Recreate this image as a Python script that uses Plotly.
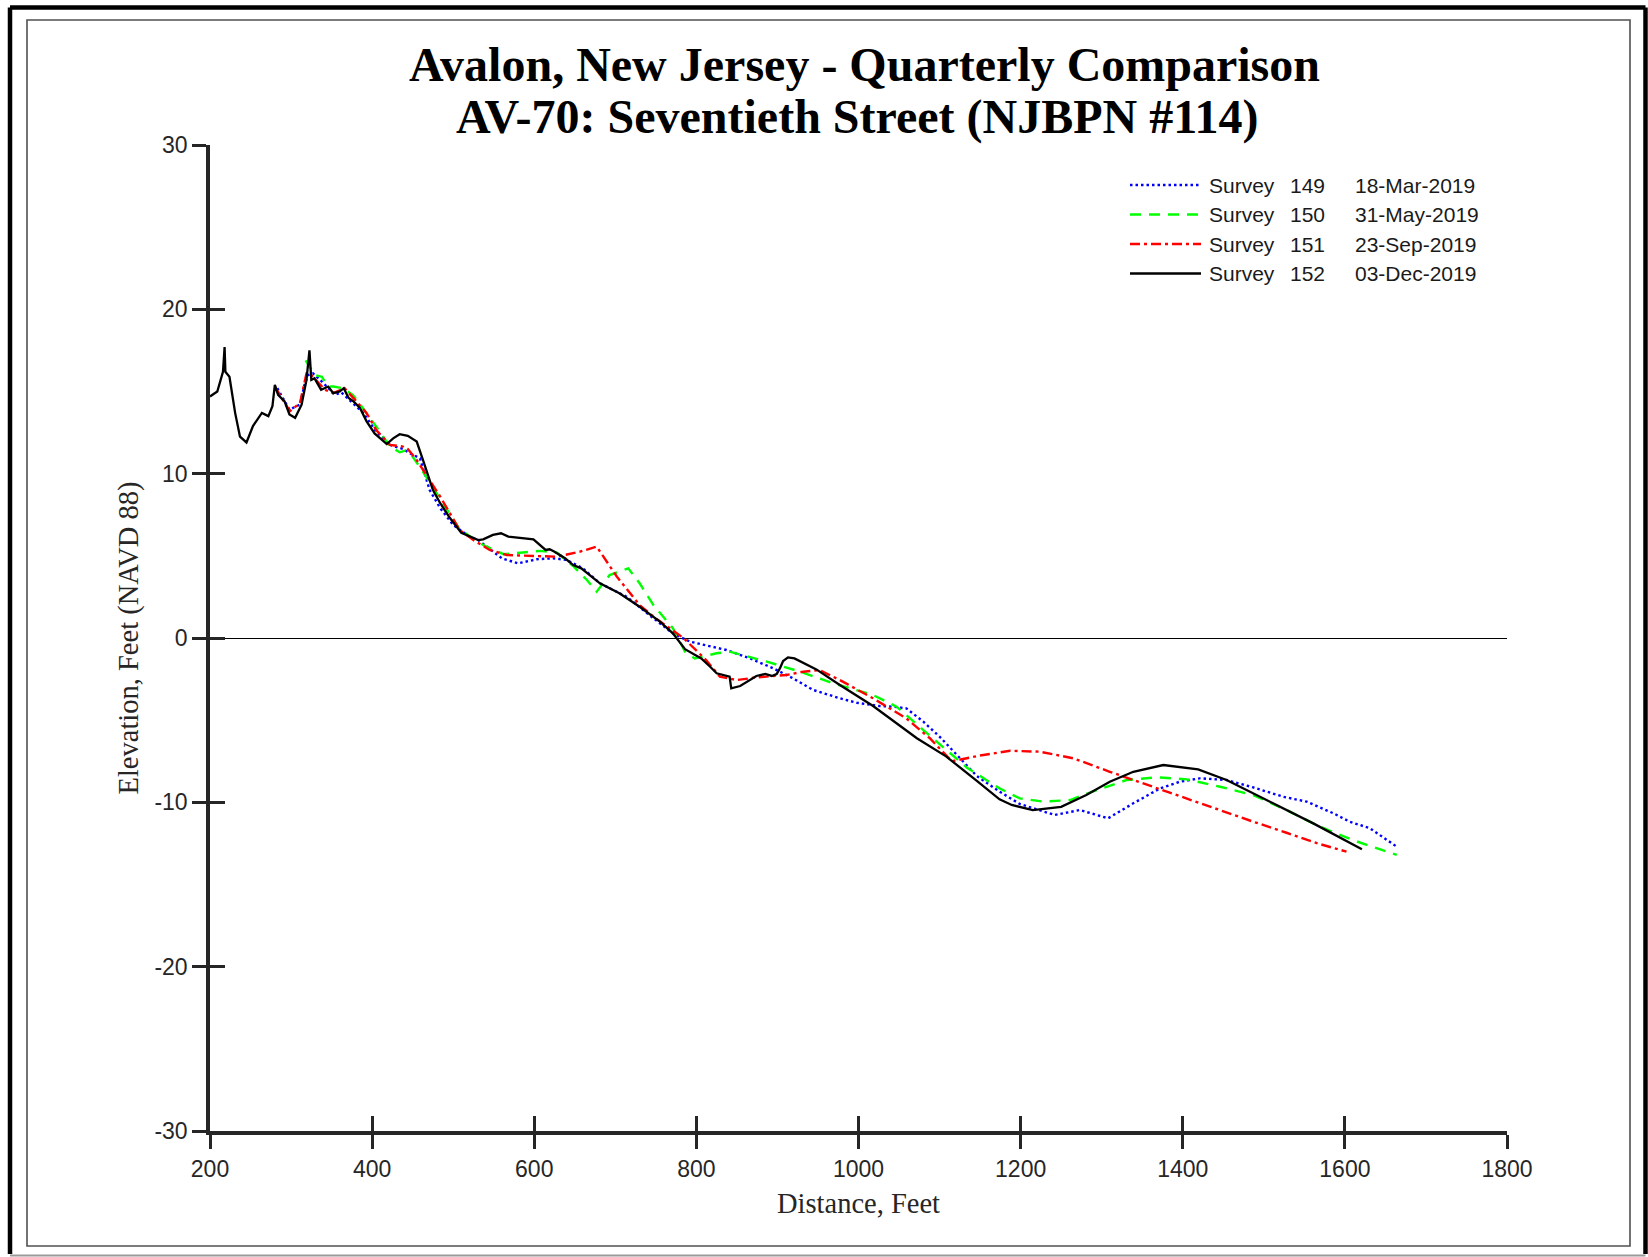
import plotly.graph_objects as go

# ---------------- data ----------------
dist_149 = [283, 290, 298, 311, 317, 321, 327, 338, 348, 354, 362, 372.5, 389, 405, 422, 438, 446.5, 459, 471,
            484, 500, 520, 531, 560, 580, 603, 623, 640, 660, 681, 714, 747, 771, 792, 812, 837, 866, 895, 919,
            944, 977, 998, 1026, 1043, 1059, 1080, 1100, 1146, 1174, 1199, 1220, 1242, 1273, 1308, 1339, 1372,
            1396, 1421, 1454, 1487, 1524, 1553, 1586, 1606, 1631, 1664]
elev_149 = [15.2, 14.6, 13.9, 14.2, 15.5, 16.0, 16.1, 15.6, 15.1, 14.8, 14.95, 14.45, 13.7, 12.56, 11.75, 11.5,
            11.24, 10.94, 9.0, 7.9, 6.88, 6.17, 5.96, 4.85, 4.54, 4.79, 4.85, 4.75, 4.24, 3.33, 2.51, 1.2, 0.28,
            -0.22, -0.43, -0.73, -1.24, -1.85, -2.45, -3.16, -3.67, -3.94, -4.14, -4.18, -4.28, -5.09, -6.0,
            -8.4, -9.35, -10.1, -10.43, -10.77, -10.47, -10.97, -10.06, -9.15, -8.75, -8.54, -8.64, -9.09,
            -9.66, -9.96, -10.67, -11.18, -11.58, -12.7]

dist_150 = [318, 329, 338, 344, 348, 352, 364, 376, 381, 399, 409.5, 422, 434, 441, 449, 463, 484, 508, 537,
            562, 586, 607, 628, 648, 665, 677, 693, 716, 730, 747, 771, 786, 798, 825, 841, 887, 928, 969, 1018,
            1047, 1080, 1134, 1174, 1199, 1228, 1261, 1294, 1331, 1368, 1405, 1446, 1487, 1528, 1569, 1610, 1664]
elev_150 = [16.9, 16.0, 15.9, 15.4, 15.3, 15.3, 15.2, 14.8, 14.5, 13.3, 12.56, 11.65, 11.3, 11.4, 11.1, 10.1,
            8.5, 6.6, 5.66, 5.1, 5.2, 5.3, 5.2, 4.38, 3.53, 2.82, 3.83, 4.24, 3.33, 2.0, 0.6, -0.83, -1.24,
            -0.93, -0.83, -1.44, -2.05, -2.76, -3.47, -4.18, -5.6, -7.9, -9.15, -9.76, -9.96, -9.86, -9.25,
            -8.64, -8.48, -8.6, -9.05, -9.56, -10.47, -11.48, -12.3, -13.2]

dist_151 = [280, 290, 298.5, 311, 317, 319, 323, 333, 342, 352, 362, 366, 377, 393, 405, 422, 438, 444, 455,
            471, 484, 508, 525, 545, 566, 599, 628, 656, 677, 702, 730, 747, 784, 812, 829, 850, 874, 911, 932,
            952, 977, 1018, 1059, 1088, 1115, 1150, 1187, 1224, 1265, 1310, 1351, 1392, 1438, 1487, 1528, 1569,
            1602]
elev_151 = [15.3, 14.5, 13.8, 14.3, 15.6, 16.1, 16.1, 15.6, 15.1, 14.9, 15.1, 15.2, 14.6, 13.7, 12.66, 11.75,
            11.65, 11.5, 10.83, 9.6, 8.6, 6.57, 5.96, 5.36, 5.05, 4.99, 4.95, 5.25, 5.56, 3.73, 2.0, 1.3, 0.0,
            -1.34, -2.35, -2.56, -2.4, -2.25, -2.05, -1.95, -2.56, -3.67, -4.89, -6.1, -7.5, -7.15, -6.86,
            -6.92, -7.32, -8.14, -8.85, -9.56, -10.37, -11.18, -11.85, -12.54, -13.0]

dist_152 = [200, 209, 216, 218, 219, 224, 231, 237, 245, 253, 264, 272, 277, 280, 284, 292, 298, 305, 313, 319,
            322.7, 325, 329, 337, 346, 352, 360, 365, 371, 377, 385, 393, 403, 418, 426, 434, 444, 455, 463,
            475, 484, 496, 510, 520, 531, 537, 549, 559, 568, 599, 605, 614, 619, 625, 638, 648, 658, 668, 681,
            705, 730, 755, 771, 786, 806, 817, 825, 841, 843, 854, 862, 874, 885, 893, 899, 903, 907, 913, 921,
            934, 948, 977, 1018, 1072, 1108, 1146, 1174, 1189, 1215, 1250, 1281, 1310, 1339, 1376, 1419, 1454,
            1487, 1520, 1561, 1621]
elev_152 = [14.7, 15.0, 16.2, 17.7, 16.2, 15.9, 13.7, 12.25, 11.9, 12.9, 13.7, 13.5, 14.1, 15.4, 14.8, 14.4,
            13.6, 13.4, 14.2, 15.7, 17.5, 15.7, 15.8, 15.1, 15.3, 14.9, 15.0, 15.2, 14.6, 14.4, 14.0, 13.2,
            12.45, 11.8, 12.15, 12.4, 12.3, 11.95, 10.8, 9.0, 8.2, 7.3, 6.4, 6.2, 5.96, 6.0, 6.27, 6.37, 6.17,
            6.0, 5.76, 5.36, 5.4, 5.25, 4.85, 4.44, 4.24, 3.83, 3.33, 2.72, 1.9, 1.0, 0.28, -0.68, -1.24, -1.75,
            -2.15, -2.35, -3.06, -2.92, -2.66, -2.31, -2.19, -2.31, -2.19, -1.85, -1.40, -1.18, -1.24, -1.54,
            -1.91, -2.86, -4.14, -6.1, -7.2, -8.7, -9.82, -10.16, -10.47, -10.27, -9.56, -8.75, -8.14, -7.73,
            -8.0, -8.64, -9.45, -10.3, -11.28, -12.86]

survey_ids = ["149", "150", "151", "152"]
survey_dates = ["18-Mar-2019", "31-May-2019", "23-Sep-2019", "03-Dec-2019"]
x_ticks = [200, 400, 600, 800, 1000, 1200, 1400, 1600, 1800]
x_tick_labels = ["200", "400", "600", "800", "1000", "1200", "1400", "1600", "1800"]
y_ticks = [-30, -20, -10, 0, 10, 20, 30]
y_tick_labels = ["-30", "-20", "-10", "0", "10", "20", "30"]

title_1 = "Avalon, New Jersey - Quarterly Comparison"
title_2 = "AV-70: Seventieth Street (NJBPN #114)"
x_title = "Distance, Feet"
y_title = "Elevation, Feet (NAVD 88)"

# ---------------- styling ----------------
W, H = 1648, 1257
L, R, T, B = 210, 141, 145, 126
PW, PH = W - L - R, H - T - B


def px_x(x):
    return (x - L) / PW


def px_y(y):
    return (H - B - y) / PH


colors = ["#0000ff", "#00ff00", "#ff0000", "#000000"]
dashes = ["2.5px,3px", "11px,8px", "10px,4px,3px,4px", "solid"]
widths = [2.4, 2.4, 2.4, 2.3]
series = [(dist_149, elev_149), (dist_150, elev_150), (dist_151, elev_151), (dist_152, elev_152)]
AX = "#262626"
SANS = "Liberation Sans, Arial, sans-serif"
SERIF = "Liberation Serif, Times New Roman, serif"

fig = go.Figure()
for i, (dx, ey) in enumerate(series):
    fig.add_trace(go.Scatter(
        x=dx, y=ey, mode="lines",
        name=f"Survey {survey_ids[i]} {survey_dates[i]}",
        line=dict(color=colors[i], width=widths[i], dash=dashes[i]),
        showlegend=False, hoverinfo="x+y+name"))

# dummy trace so the overlay axes (inner tick marks) exist
fig.add_trace(go.Scatter(x=[None], y=[None], xaxis="x2", yaxis="y2", showlegend=False, hoverinfo="skip"))

fig.update_layout(
    width=W, height=H,
    margin=dict(l=L, r=R, t=T, b=B, autoexpand=False),
    paper_bgcolor="white", plot_bgcolor="white",
    showlegend=False,
    title=dict(text=title_1, x=864.5 / W, xref="container", xanchor="center",
               y=1 - 64 / H, yref="container", yanchor="middle",
               font=dict(family=SERIF, size=48, color="black", weight="bold")),
    xaxis=dict(range=[200, 1800], tickmode="array", tickvals=x_ticks, ticktext=x_tick_labels,
               ticks="outside", ticklen=14, tickwidth=2.5, tickcolor=AX,
               showline=True, linewidth=3.5, linecolor=AX, mirror=False,
               showgrid=False, zeroline=False,
               tickfont=dict(family=SANS, size=23, color=AX),
               ticklabelstandoff=1,
               title=dict(text=x_title, font=dict(family=SERIF, size=28.5, color=AX), standoff=13),
               fixedrange=True),
    yaxis=dict(range=[-30, 30], tickmode="array", tickvals=y_ticks, ticktext=y_tick_labels,
               ticks="outside", ticklen=14, tickwidth=2.5, tickcolor=AX,
               showline=True, linewidth=3.5, linecolor=AX, mirror=False,
               showgrid=False, zeroline=True, zerolinecolor="black", zerolinewidth=1.3,
               tickfont=dict(family=SANS, size=23, color=AX),
               ticklabelstandoff=0,
               title=dict(text=y_title, font=dict(family=SERIF, size=28.5, color=AX), standoff=8),
               fixedrange=True),
    xaxis2=dict(range=[200, 1800], overlaying="x", anchor="y2", tickmode="array", tickvals=x_ticks,
                ticks="inside", ticklen=15, tickwidth=2.5, tickcolor=AX,
                showticklabels=False, showline=False, showgrid=False, zeroline=False, fixedrange=True),
    yaxis2=dict(range=[-30, 30], overlaying="y", anchor="x2", tickmode="array", tickvals=y_ticks,
                ticks="inside", ticklen=15, tickwidth=2.5, tickcolor=AX,
                showticklabels=False, showline=False, showgrid=False, zeroline=False, fixedrange=True),
)

# second title line
fig.add_annotation(text=title_2, xref="paper", yref="paper", x=px_x(857.5), y=px_y(117),
                   xanchor="center", yanchor="middle", showarrow=False,
                   font=dict(family=SERIF, size=48, color="black", weight="bold"))

# manual legend (long line samples as in reference)
row_y = [185, 214.5, 244, 273.5]
for i in range(4):
    yy = px_y(row_y[i])
    fig.add_shape(type="line", xref="paper", yref="paper", x0=px_x(1130), x1=px_x(1201), y0=yy, y1=yy,
                  line=dict(color=colors[i], width=2.4, dash=dashes[i]))
    for txt, xp in (("Survey", 1207), (survey_ids[i], 1288), (survey_dates[i], 1353)):
        fig.add_annotation(text=txt, xref="paper", yref="paper", x=px_x(xp), y=yy,
                           xanchor="left", yanchor="middle", showarrow=False,
                           font=dict(family=SANS, size=21, color="#1a1a1a"))

# page frame
frame = [
    (10, 7.5, 10, 1254, "black", 4.5),
    (10, 7.5, 1645.5, 7.5, "black", 4.5),
    (1645.5, 7.5, 1645.5, 1254, "black", 4.5),
    (10, 1255.5, 1645.5, 1255.5, "#9a9a9a", 2),
]
for x0, y0, x1, y1, c, w in frame:
    fig.add_shape(type="line", xref="paper", yref="paper", x0=px_x(x0), y0=px_y(y0), x1=px_x(x1), y1=px_y(y1),
                  line=dict(color=c, width=w))
fig.add_shape(type="rect", xref="paper", yref="paper", x0=px_x(27), y0=px_y(20), x1=px_x(1630), y1=px_y(1246),
              line=dict(color="#505050", width=1.6), fillcolor="rgba(0,0,0,0)")

fig.write_html(
    "out.html",
    config={"displayModeBar": False},
    post_script="document.body.style.margin='0px';document.body.style.padding='0px';"
                "document.documentElement.style.overflow='hidden';",
)
